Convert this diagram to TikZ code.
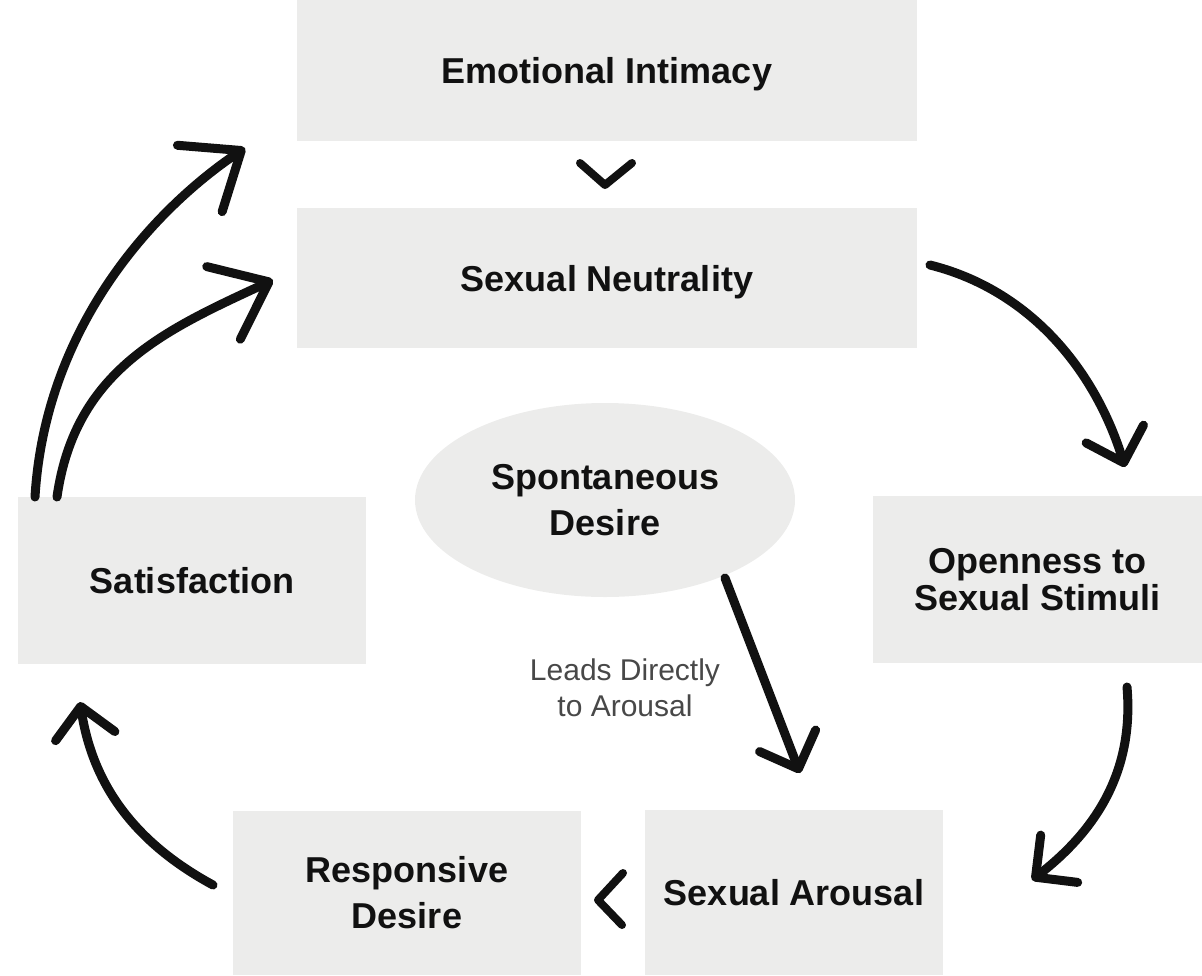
\documentclass[tikz,border=0pt]{standalone}
\usepackage{fontspec}
\setmainfont{Liberation Sans}
\usetikzlibrary{arrows.meta,shapes.geometric,calc}
\definecolor{boxfill}{RGB}{236,236,235}
\definecolor{ink}{RGB}{17,17,17}
\definecolor{lblgray}{RGB}{72,72,72}
\begin{document}
\begin{tikzpicture}[x=1pt,y=-1pt,
  box/.style={rectangle, fill=boxfill, inner sep=0pt, align=center, text=ink,
    font=\bfseries\fontsize{36}{46}\selectfont},
  oval/.style={ellipse, fill=boxfill, inner sep=0pt, align=center, text=ink,
    font=\bfseries\fontsize{36}{46}\selectfont},
  note/.style={align=center, text=lblgray, inner sep=0pt,
    font=\fontsize{30}{36}\selectfont},
  flow/.style={line width=9pt, draw=ink, line cap=round,
    -{Straight Barb[round, length=30pt, width=60pt]}},
  bigflow/.style={line width=9pt, draw=ink, line cap=round,
    -{Straight Barb[round, length=50pt, width=80pt]}},
  chev/.style={line width=8pt, draw=ink, line cap=round, line join=round}]
\useasboundingbox (0,0) rectangle (1202,975);

% boxes
\node[box, text depth=0pt, minimum width=620pt, minimum height=141pt] (ei) at (607,70.5) {Emotional Intimacy};
\node[box, text depth=0pt, minimum width=620pt, minimum height=140pt] (sn) at (607,278) {Sexual Neutrality};
\node[box, text depth=0pt, minimum width=348pt, minimum height=167pt] (sat) at (192,580.5) {Satisfaction};
\node[box, minimum width=329pt, minimum height=167pt,
  font=\bfseries\fontsize{36}{37}\selectfont] (op) at (1037.5,579.5) {Openness to\\Sexual Stimuli};
\node[box, minimum width=348pt, minimum height=164pt] (rd) at (407,893) {Responsive\\Desire};
\node[box, text depth=0pt, minimum width=298pt, minimum height=165pt] (sa) at (794,892.5) {Sexual Arousal};
\node[oval, minimum width=380pt, minimum height=194pt] (sd) at (605,500) {Spontaneous\\Desire};
\node[note] (lbl) at (625,688) {Leads Directly\\to Arousal};

% connector end points
\coordinate (s1) at (35,497);
\coordinate (t1) at (245,148);
\coordinate (s2) at (57,497);
\coordinate (t2) at (273,280);
\coordinate (s3) at (930,265);
\coordinate (t3) at (1125,467);
\coordinate (s4) at (1127,687);
\coordinate (t4) at (1032,880);
\coordinate (s5) at (213,885);
\coordinate (t5) at (80,702);
\coordinate (s6) at (725,578);
\coordinate (t6) at (800,773);

% connectors
\draw[bigflow] (s1) .. controls (45,330) and (150,212) .. (t1);
\draw[bigflow] (s2) .. controls (75,370) and (165,330) .. (t2);
\draw[flow] (s3) .. controls (1030,290) and (1095,370) .. (t3);
\draw[flow] (s4) .. controls (1135,780) and (1087,837) .. (t4);
\draw[flow] (s5) .. controls (130,840) and (92,780) .. (t5);
\draw[flow] (s6) -- (t6);

% chevrons
\draw[chev] (580,163) -- (605,185) -- (632,163);
\draw[chev] (623,873) -- (598,900) -- (622,925);
\end{tikzpicture}
\end{document}
